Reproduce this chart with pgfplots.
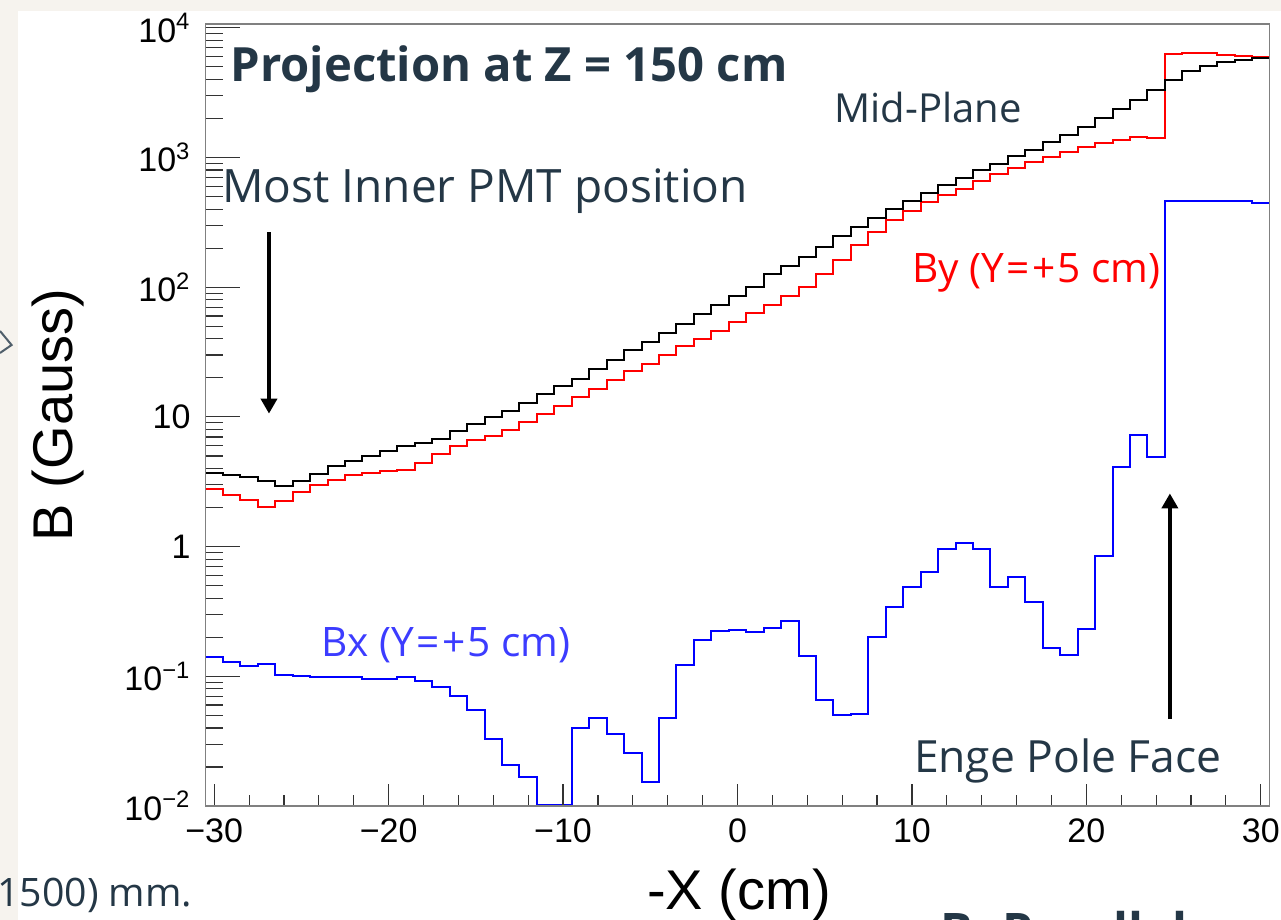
\documentclass[border=0pt]{standalone}
\usepackage{pgfplots}
\pgfplotsset{compat=1.18}
\usepackage{pgfplotstable}
\usepackage{fontspec}
\setmainfont{Liberation Sans}
\newfontfamily\segoe{Open Sans}
\usetikzlibrary{arrows.meta}
\definecolor{slate}{HTML}{243746}
\definecolor{bxtext}{HTML}{3C3CFF}
\definecolor{beige}{HTML}{F6F3EE}

\pgfplotstableread{
x mid by bx
-30.5 3.70 2.76 0.140
-29.5 3.59 2.49 0.129
-28.5 3.44 2.28 0.121
-27.5 3.21 2.02 0.124
-26.5 2.92 2.24 0.103
-25.5 3.19 2.63 0.101
-24.5 3.66 2.99 0.099
-23.5 4.16 3.29 0.099
-22.5 4.55 3.55 0.098
-21.5 5.00 3.72 0.096
-20.5 5.46 3.86 0.096
-19.5 5.94 3.93 0.098
-18.5 6.26 4.42 0.092
-17.5 6.71 5.13 0.083
-16.5 7.78 5.94 0.0704
-15.5 8.87 6.61 0.0549
-14.5 9.98 7.18 0.0327
-13.5 11.1 7.98 0.0206
-12.5 12.9 9.14 0.0168
-11.5 14.9 10.6 0.01015
-10.5 17.2 12.1 0.01015
-9.5 19.7 14.2 0.0401
-8.5 23.3 16.4 0.0473
-7.5 27.3 19.1 0.0359
-6.5 32.6 22.6 0.0258
-5.5 37.6 25.5 0.0154
-4.5 44.3 29.9 0.0473
-3.5 52.3 35.0 0.122
-2.5 61.7 40.1 0.192
-1.5 72.4 45.9 0.224
-0.5 85 53.8 0.227
0.5 100 63.1 0.220
1.5 126 73.2 0.237
2.5 146 86 0.266
3.5 171 101 0.144
4.5 204 127 0.0657
5.5 246 162 0.0503
6.5 290 212 0.0508
7.5 339 266 0.201
8.5 400 327 0.343
9.5 464 386 0.489
10.5 528 450 0.638
11.5 609 510 0.95
12.5 698 574 1.07
13.5 795 657 0.966
14.5 894 740 0.489
15.5 1018 827 0.585
16.5 1146 921 0.375
17.5 1311 1007 0.164
18.5 1495 1100 0.146
19.5 1733 1202 0.231
20.5 2009 1299 0.843
21.5 2372 1369 4.11
22.5 2798 1434 7.2
23.5 3342 1418 4.91
24.5 3966 6295 464
25.5 4622 6400 464
26.5 5051 6350 464
27.5 5418 6220 458
28.5 5685 6110 458
29.5 5820 5940 448
30.5 5820 5940 448
}\histdata

\begin{document}
\begin{tikzpicture}
\useasboundingbox (0pt,0pt) rectangle (640.5pt,460pt);
\fill[beige] (0pt,0pt) rectangle (640.5pt,460pt);
\fill[white] (9pt,0pt) rectangle (640.5pt,454.5pt);

% data axis with y ticks
\begin{axis}[
  at={(102.75pt,57pt)}, anchor=south west, scale only axis,
  width=532pt, height=391pt,
  xmin=-30.5, xmax=30.5,
  ymode=log, ymin=0.01, ymax=1.07e4,
  axis line style={draw=black!50, line width=0.75pt},
  tick align=inside,
  xtick=\empty,
  ytick={0.01,0.1,1,10,100,1000,10000},
  yticklabels={10\textsuperscript{−2},10\textsuperscript{−1},1,10,10\textsuperscript{2},10\textsuperscript{3},10\textsuperscript{4}},
  minor ytick={0.02,0.03,0.04,0.05,0.06,0.07,0.08,0.09,
               0.2,0.3,0.4,0.5,0.6,0.7,0.8,0.9,
               2,3,4,5,6,7,8,9,
               20,30,40,50,60,70,80,90,
               200,300,400,500,600,700,800,900,
               2000,3000,4000,5000,6000,7000,8000,9000},
  major tick length=17pt, minor tick length=8.5pt,
  ytick pos=left,
  every tick/.style={black!80, line width=0.6pt},
  yticklabel style={font=\fontsize{17}{17}\selectfont, xshift=-4pt},
]
\addplot[const plot, blue, line width=1pt] table[x=x, y=bx] {\histdata};
\addplot[const plot, red, line width=1pt] table[x=x, y=by] {\histdata};
\addplot[const plot, black, line width=1pt] table[x=x, y=mid] {\histdata};
\draw[line width=2.1pt, -{Triangle[width=8pt,length=7.5pt]}] (axis cs:-26.86,266) -- (axis cs:-26.86,10.6);
\draw[line width=2.1pt, -{Triangle[width=8pt,length=7.5pt]}] (axis cs:24.79,0.0468) -- (axis cs:24.79,2.57);
\end{axis}

% x ticks axis
\begin{axis}[
  at={(102.75pt,57pt)}, anchor=south west, scale only axis,
  width=532pt, height=391pt,
  xmin=-30.5, xmax=30.5, ymin=0, ymax=1,
  axis line style={draw=black!50, line width=0.75pt},
  tick align=inside,
  ytick=\empty,
  xtick={-30,-20,-10,0,10,20,30},
  xticklabels={−30,−20,−10,0,10,20,30},
  minor x tick num=4,
  major tick length=11pt, minor tick length=5.5pt,
  xtick pos=lower,
  every tick/.style={black!80, line width=0.6pt},
  xticklabel style={font=\fontsize{17}{17}\selectfont, yshift=-2.8pt},
]
\end{axis}

% axis titles
\node[rotate=90, anchor=base, inner sep=0pt, font=\fontsize{28}{28}\selectfont] at (36pt,252.5pt) {B (Gauss)};
\node[anchor=base, inner sep=0pt, font=\fontsize{28}{28}\selectfont] at (369.5pt,5pt) {-X (cm)};

% annotations
\node[anchor=base west, inner sep=0pt, text=slate, font=\segoe\bfseries\fontsize{23.6}{23.6}\selectfont] at (115pt,419pt) {Projection at Z = 150 cm};
\node[anchor=base west, inner sep=0pt, text=slate, font=\segoe\fontsize{23}{23}\selectfont] at (111pt,358.5pt) {Most Inner PMT position};
\node[anchor=base west, inner sep=0pt, text=slate, font=\segoe\fontsize{20}{20}\selectfont] at (417pt,398.6pt) {Mid-Plane};
\node[anchor=base west, inner sep=0pt, text=red, font=\segoe\fontsize{20.3}{20.3}\selectfont] at (456pt,318.5pt) {By (Y\kern1.2pt=\kern1.2pt+\kern1pt5 cm)};
\node[anchor=base west, inner sep=0pt, text=bxtext, font=\segoe\fontsize{20.3}{20.3}\selectfont] at (160.5pt,131.5pt) {Bx (Y\kern1.2pt=\kern1.2pt+\kern1pt5 cm)};
\node[anchor=base west, inner sep=0pt, text=slate, font=\segoe\fontsize{22.2}{22.2}\selectfont] at (456.8pt,73.5pt) {Enge Pole Face};

% cut slide context
\node[anchor=base west, inner sep=0pt, text=slate, font=\segoe\fontsize{19.6}{19.6}\selectfont] at (-1.5pt,6.5pt) {1500) mm.};
\node[anchor=base west, inner sep=0pt, text=slate, font=\segoe\bfseries\fontsize{24.5}{24.5}\selectfont] at (470pt,-14.5pt) {B\,\, Parallel};
\draw[slate!80, line width=1pt] (0pt,294.5pt) -- (5.8pt,287.5pt) -- (0pt,283.5pt);
\end{tikzpicture}
\end{document}
